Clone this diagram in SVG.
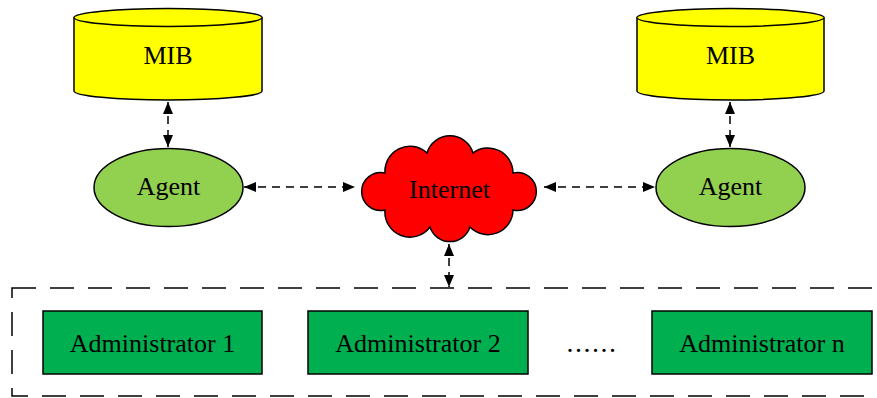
<svg xmlns="http://www.w3.org/2000/svg" width="877" height="398" viewBox="0 0 877 398">
<style>
text{font-family:"Liberation Serif","Times New Roman",serif;font-size:26px;fill:#000;text-anchor:middle}
.cyl{fill:#ffff00;stroke:#000;stroke-width:1.5}
.agent{fill:#92d050;stroke:#000;stroke-width:1.5}
.admin{fill:#00b050;stroke:#000;stroke-width:1.5}
.cloud{fill:#ff0000;stroke:#000;stroke-width:1.5}
.conn{stroke:#000;stroke-width:1.5;stroke-dasharray:8 6;fill:none;marker-start:url(#ah);marker-end:url(#ah)}
.box{fill:none;stroke:#000;stroke-width:1.5;stroke-dasharray:24 14}
.dots{font-size:28px;letter-spacing:1.5px}
</style>
<defs>
<marker id="ah" viewBox="0 0 12 10" refX="12" refY="5" markerWidth="12" markerHeight="10" markerUnits="userSpaceOnUse" orient="auto-start-reverse">
<path d="M0,0 L12,5 L0,10 Z" fill="#000"/>
</marker>
</defs>
<rect class="box" x="12" y="288" width="885" height="108"/>
<g id="connectors">
<line class="conn" x1="168" y1="102" x2="168" y2="147"/>
<line class="conn" x1="730" y1="102" x2="730" y2="147"/>
<line class="conn" x1="244" y1="187" x2="355" y2="187"/>
<line class="conn" x1="544" y1="187" x2="655" y2="187"/>
<line class="conn" x1="449" y1="244" x2="449" y2="287"/>
</g>
<g id="mib1">
<path class="cyl" d="M74,17.5 A94,9 0 0 1 262,17.5 L262,91 A94,9 0 0 1 74,91 Z"/>
<path class="cyl" d="M74,17.5 A94,9 0 0 0 262,17.5" fill="none"/>
<text x="168" y="64">MIB</text>
</g>
<g id="mib2">
<path class="cyl" d="M637,17.5 A93.5,9 0 0 1 824,17.5 L824,91 A93.5,9 0 0 1 637,91 Z"/>
<path class="cyl" d="M637,17.5 A93.5,9 0 0 0 824,17.5" fill="none"/>
<text x="730.5" y="64">MIB</text>
</g>
<g id="agent1">
<ellipse class="agent" cx="168.5" cy="187.5" rx="74.5" ry="39"/>
<text x="168.5" y="195">Agent</text>
</g>
<g id="agent2">
<ellipse class="agent" cx="730.5" cy="187.5" rx="74.5" ry="39"/>
<text x="730.5" y="195">Agent</text>
</g>
<g id="internet">
<path class="cloud" d="M385,210 A19,19 0 1 1 385,173 A25,25 0 0 1 427,153 A24,24 0 0 1 473,153 A25,25 0 0 1 513,173 A19,19 0 1 1 513,210 A25,25 0 0 1 470,227 A21,21 0 0 1 430,227 A25,25 0 0 1 385,210 Z"/>
<text x="449.5" y="198">Internet</text>
</g>
<g id="admin1">
<rect class="admin" x="43" y="311" width="219" height="63"/>
<text x="152.5" y="352">Administrator 1</text>
</g>
<g id="admin2">
<rect class="admin" x="308" y="311" width="220" height="63"/>
<text x="418" y="352">Administrator 2</text>
</g>
<g id="dots">
<text class="dots" x="592" y="352">......</text>
</g>
<g id="adminn">
<rect class="admin" x="652" y="311" width="220" height="63"/>
<text x="762" y="352">Administrator n</text>
</g>
</svg>
